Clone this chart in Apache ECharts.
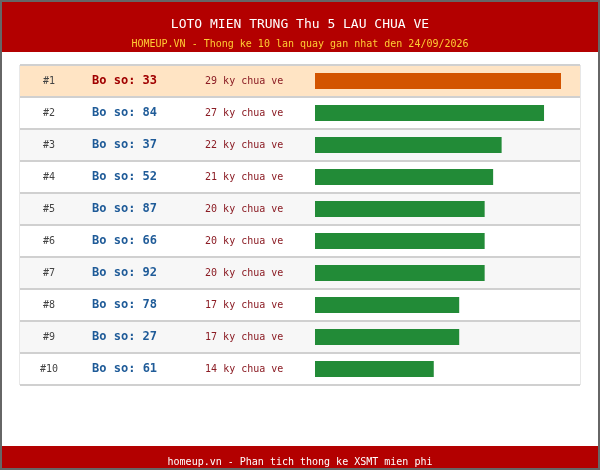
<!DOCTYPE html>
<html>
<head>
<meta charset="utf-8">
<script src="https://cdn.jsdelivr.net/npm/echarts@6/dist/echarts.min.js"></script>
<style>html,body{margin:0;padding:0;background:#fff}#c{width:600px;height:470px}</style>
</head>
<body>
<div id="c"></div>
<script>
const ranks = ['#1','#2','#3','#4','#5','#6','#7','#8','#9','#10'];
const numbers = ['33','84','37','52','87','66','92','78','27','61'];
const gaps = [29,27,22,21,20,20,20,17,17,14];
const titleText = 'LOTO MIEN TRUNG Thu 5 LAU CHUA VE';
const subtitleText = 'HOMEUP.VN - Thong ke 10 lan quay gan nhat den 24/09/2026';
const footerText = 'homeup.vn - Phan tich thong ke XSMT mien phi';

const FONT = 'DejaVu Sans Mono';
const rowColors = ['#ffe4c4','#ffffff','#f7f7f7','#ffffff','#f7f7f7','#ffffff','#f7f7f7','#ffffff','#f7f7f7','#ffffff'];

const chart = echarts.init(document.getElementById('c'), null, {renderer:'canvas'});
const option = {
  animation: false,
  backgroundColor: '#ffffff',
  title: [
    {text: titleText, left: 'center', top: 13, textStyle: {fontFamily: FONT, fontSize: 13, fontWeight: 'normal', color: '#ffffff'}},
    {text: subtitleText, left: 'center', top: 34, textStyle: {fontFamily: FONT, fontSize: 10, fontWeight: 'normal', color: '#ffcc33'}},
    {text: footerText, left: 'center', top: 452, textStyle: {fontFamily: FONT, fontSize: 10, fontWeight: 'normal', color: '#ffffff'}}
  ],
  graphic: [
    {type: 'rect', shape: {x: 0, y: 0, width: 600, height: 52}, style: {fill: '#b30000'}, z: -10},
    {type: 'rect', shape: {x: 0, y: 446, width: 600, height: 24}, style: {fill: '#b30000'}, z: -10},
    {type: 'rect', shape: {x: 1, y: 1, width: 598, height: 468}, style: {fill: 'none', stroke: '#666666', lineWidth: 2}, z: 100}
  ],
  grid: [
    {left: 20, top: 65, width: 560, height: 320, show: true, borderColor: '#d0d0d0', borderWidth: 1, backgroundColor: 'transparent'},
    {left: 315, top: 65, width: 246, height: 320}
  ],
  xAxis: [
    {gridIndex: 0, type: 'value', min: 0, max: 1, show: false},
    {gridIndex: 1, type: 'value', min: 0, max: 29, show: false}
  ],
  yAxis: [
    {
      gridIndex: 0, type: 'category', inverse: true, data: ranks,
      axisLine: {show: false}, axisTick: {show: false},
      splitLine: {show: true, lineStyle: {color: '#d0d0d0', width: 2}},
      splitArea: {show: true, areaStyle: {color: rowColors}},
      axisLabel: {
        inside: true, margin: 0,
        formatter: function (v, i) {
          const r = ranks[i].length > 2 ? 'r3' : 'r2';
          const b = i === 0 ? 'b1' : 'b';
          return '{' + r + '|' + ranks[i] + '}{' + b + '|Bo so: ' + numbers[i] + '}{k|' + gaps[i] + ' ky chua ve}';
        },
        rich: {
          r2: {align: 'left', padding: [0, 37, 0, 23], fontFamily: FONT, fontSize: 10, color: '#444444'},
          r3: {align: 'left', padding: [0, 34, 0, 20], fontFamily: FONT, fontSize: 10, color: '#444444'},
          b: {align: 'left', padding: [0, 48, 0, 0], fontFamily: FONT, fontSize: 12, fontWeight: 'bold', color: '#1f5b98'},
          b1: {align: 'left', padding: [0, 48, 0, 0], fontFamily: FONT, fontSize: 12, fontWeight: 'bold', color: '#a00000'},
          k: {align: 'left', fontFamily: FONT, fontSize: 10, color: '#8b1c24'}
        }
      }
    },
    {gridIndex: 1, type: 'category', inverse: true, data: ranks, show: false}
  ],
  series: [
    {
      type: 'bar', xAxisIndex: 1, yAxisIndex: 1, barWidth: 16,
      data: gaps.map(function (g, i) { return {value: g, itemStyle: {color: i === 0 ? '#d35400' : '#228b37'}}; })
    }
  ]
};
chart.setOption(option);
</script>
</body>
</html>
